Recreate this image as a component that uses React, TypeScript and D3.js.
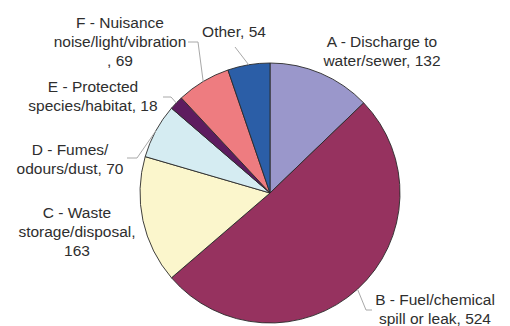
import React from "react";
import * as d3 from "d3";

const categories = [
  "A - Discharge to water/sewer",
  "B - Fuel/chemical spill or leak",
  "C - Waste storage/disposal",
  "D - Fumes/ odours/dust",
  "E - Protected species/habitat",
  "F - Nuisance noise/light/vibration",
  "Other",
];
const values = [132, 524, 163, 70, 18, 69, 54];
const labelLines = [
  ["A - Discharge to", "water/sewer, 132"],
  ["B - Fuel/chemical", "spill or leak, 524"],
  ["C - Waste", "storage/disposal,", "163"],
  ["D - Fumes/", "odours/dust, 70"],
  ["E - Protected", "species/habitat, 18"],
  ["F - Nuisance", "noise/light/vibration", ", 69"],
  ["Other, 54"],
];
const colors = ["#9A97CB", "#96325F", "#FBF6CC", "#D5ECF2", "#5E1C5F", "#EE7C80", "#2B5EA7"];

// layout: label center x, first baseline y; leader: attach points (null = none)
const labelPos: [number, number][] = [
  [382, 47],
  [435, 305],
  [77, 218],
  [70, 155],
  [93, 92],
  [120, 28],
  [234, 37],
];
const leaders: ([number, number][] | null)[] = [
  null,
  [[372, 310], [366, 310]],
  null,
  [[127, 158], [137, 158]],
  [[163, 97], [171, 97]],
  [[188, 42], [198, 42]],
  [[235, 47]],
];

const W = 510, H = 326;
const cx = 270, cy = 193, R = 130;
const lineH = 19;

export default function App() {
  const pie = d3.pie<number>().sort(null).value((d) => d)(values);
  const arc = d3.arc<d3.PieArcDatum<number>>().innerRadius(0).outerRadius(R);
  return (
    <svg width={W} height={H} style={{ position: "absolute", left: 0, top: 0 }}
      fontFamily="'Liberation Sans', Arial, sans-serif">
      <rect width={W} height={H} fill="#fff" />
      <g transform={`translate(${cx},${cy})`}>
        {pie.map((p, i) => (
          <path key={categories[i]} d={arc(p) || ""} fill={colors[i]} stroke="#2a2a2a" strokeWidth={0.9} strokeLinejoin="round" />
        ))}
      </g>
      {pie.map((p, i) => {
        const pts = leaders[i];
        if (!pts) return null;
        const mid = (p.startAngle + p.endAngle) / 2;
        const ex = cx + R * Math.sin(mid);
        const ey = cy - R * Math.cos(mid);
        const all = [...pts, [ex, ey] as [number, number]];
        return (
          <path key={"l" + i} d={d3.line()(all) || ""} fill="none" stroke="#a8a8a8" strokeWidth={1} />
        );
      })}
      {labelLines.map((lines, i) => (
        <text key={"t" + i} x={labelPos[i][0]} y={labelPos[i][1]} textAnchor="middle" fontSize={15.5} fill="#2e2e2e">
          {lines.map((ln, j) => (
            <tspan key={j} x={labelPos[i][0]} y={labelPos[i][1] + j * lineH}>{ln}</tspan>
          ))}
        </text>
      ))}
    </svg>
  );
}
